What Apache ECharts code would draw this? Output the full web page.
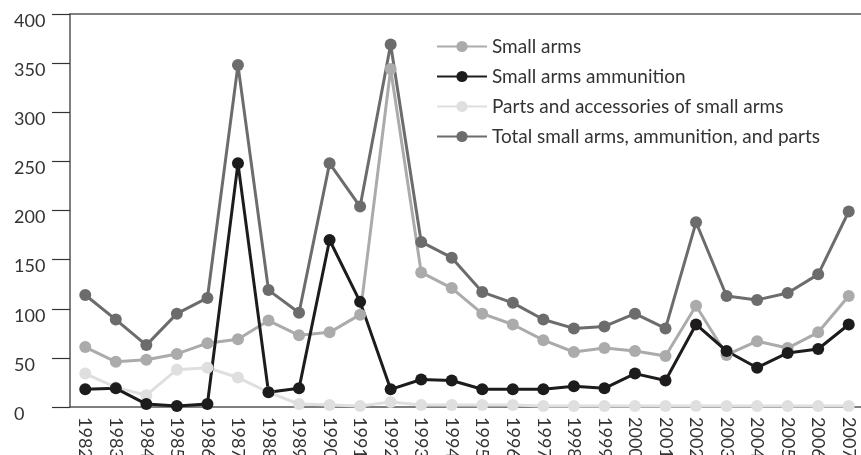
<!DOCTYPE html>
<html>
<head>
<meta charset="utf-8">
<script src="https://cdn.jsdelivr.net/npm/echarts@6/dist/echarts.min.js"></script>
<style>
  html, body { margin: 0; padding: 0; background: #fff; }
  #chart { width: 861px; height: 455px; }
</style>
</head>
<body>
<div id="chart"></div>
<script>
const years = ['1982', '1983', '1984', '1985', '1986', '1987', '1988', '1989', '1990', '1991', '1992', '1993', '1994',
    '1995', '1996', '1997', '1998', '1999', '2000', '2001', '2002', '2003', '2004', '2005', '2006', '2007'];
const smallArms = [61, 46, 48, 54, 65, 69, 88, 73, 76, 94, 344, 137, 121, 95, 84, 68, 56, 60, 57, 52, 103, 53, 67, 60, 76, 113];
const ammunition = [18, 19, 3, 1, 3, 248, 15, 19, 170, 107, 18, 28, 27, 18, 18, 18, 21, 19, 34, 27, 84, 57, 40, 55, 59, 84];
const parts = [34, 20, 12, 38, 40, 30, 15, 3, 2, 1, 5, 2, 2, 2, 2, 1, 1, 1, 1, 1, 1, 1, 1, 1, 1, 1];
const total = [114, 89, 63, 95, 111, 348, 119, 96, 248, 204, 369, 168, 152, 117, 106, 89, 80, 82, 95, 80, 188, 113, 109, 116, 135, 199];
const yTicks = [0, 400, 50];

const FONT = 'Lato, "Open Sans", sans-serif';
const chart = echarts.init(document.getElementById('chart'));

// one line series, filled round markers
function lineSeries(name, data, color) {
    return {
        name: name,
        type: 'line',
        data: data,
        symbol: 'circle',
        symbolSize: 12,
        lineStyle: { color: color, width: 3 },
        itemStyle: { color: color },
        emphasis: { disabled: true }
    };
}

const option = {
    animation: false,
    textStyle: { fontFamily: FONT },
    grid: { left: 70, right: -3, top: 14, bottom: 48, outerBoundsMode: 'none', containLabel: false },
    legend: {
        orient: 'vertical',
        left: 431,
        top: 32,
        itemWidth: 50,
        itemHeight: 14,
        itemGap: 11,
        textStyle: { fontFamily: FONT, fontSize: 19, lineHeight: 16, color: '#333' },
        data: ['Small arms', 'Small arms ammunition', 'Parts and accessories of small arms', 'Total small arms, ammunition, and parts']
    },
    xAxis: [
        {
            type: 'category',
            data: years,
            boundaryGap: true,
            axisLine: { lineStyle: { color: '#555', width: 1.5 } },
            axisTick: { length: 8, lineStyle: { color: '#333', width: 1.2 } },
            axisLabel: {
                rotate: -90,
                margin: 10,
                interval: 0,
                fontSize: 18,
                color: '#333',
                fontFamily: FONT
            }
        },
        {
            type: 'category',
            position: 'top',
            data: years,
            axisLine: { lineStyle: { color: '#555', width: 1.5 } },
            axisTick: { show: false },
            axisLabel: { show: false }
        }
    ],
    yAxis: {
        type: 'value',
        min: yTicks[0],
        max: yTicks[1],
        interval: yTicks[2],
        axisLine: { show: true, lineStyle: { color: '#555', width: 1.5 } },
        axisTick: { show: true, length: 18, lineStyle: { color: '#333', width: 1.2 } },
        splitLine: { show: false },
        axisLabel: {
            align: 'left',
            verticalAlign: 'top',
            margin: 56,
            fontSize: 18,
            lineHeight: 14,
            color: '#333',
            fontFamily: FONT
        }
    },
    series: [
        lineSeries('Parts and accessories of small arms', parts, '#dfdfe0'),
        lineSeries('Small arms', smallArms, '#ababab'),
        lineSeries('Small arms ammunition', ammunition, '#1e1b1c'),
        lineSeries('Total small arms, ammunition, and parts', total, '#6c6c6c')
    ]
};

chart.setOption(option);
</script>
</body>
</html>
